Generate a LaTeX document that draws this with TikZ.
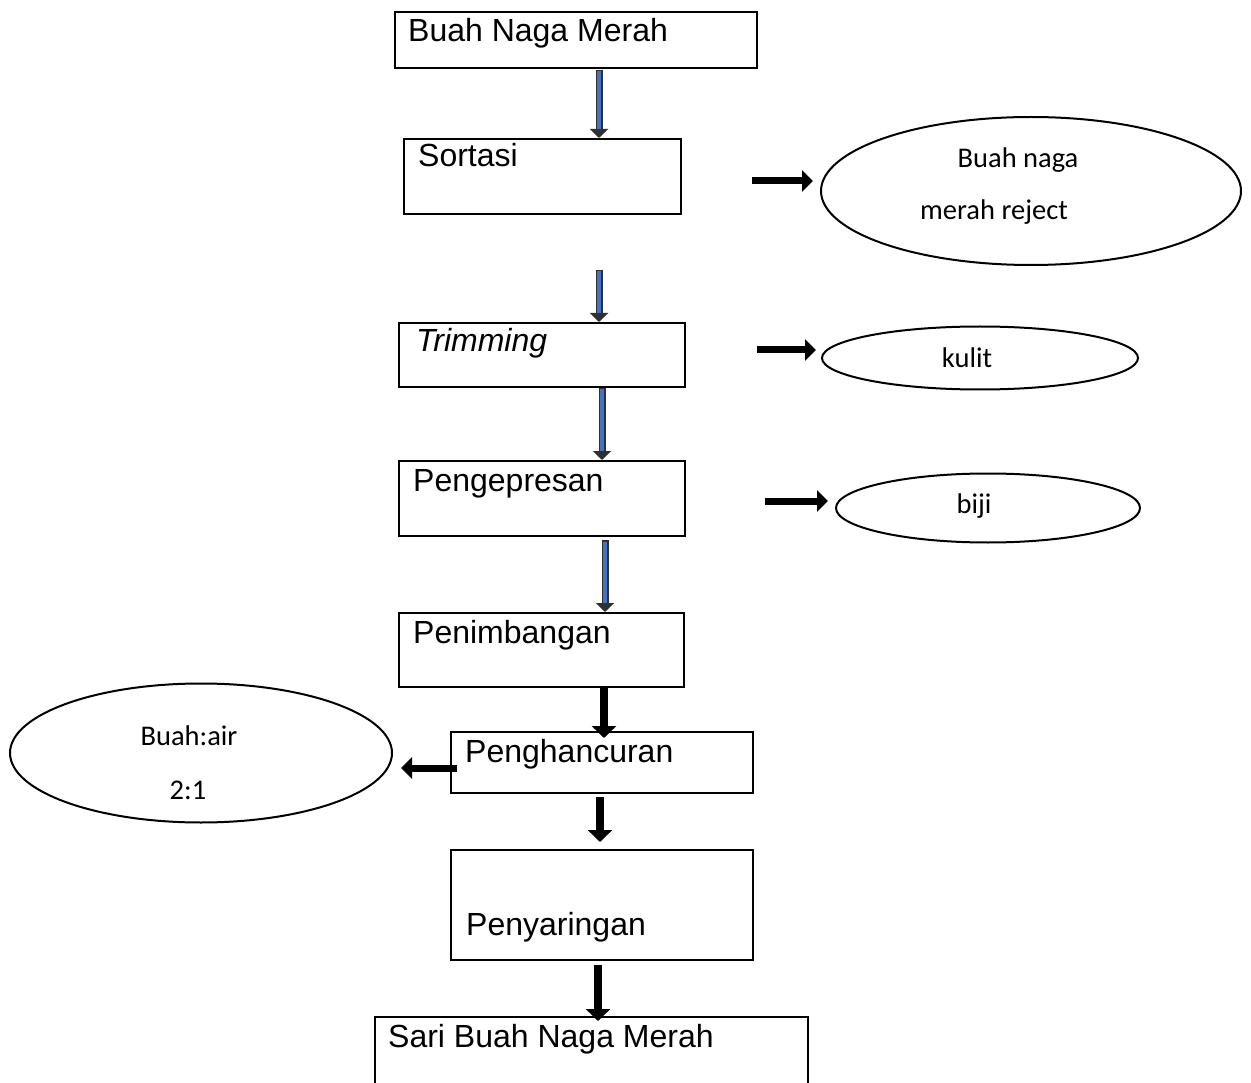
\documentclass[tikz,border=0pt]{standalone}
\usepackage{fontspec}
\setmainfont{Liberation Sans}
\newfontfamily\calfont{Carlito}
\usetikzlibrary{arrows.meta,shapes.geometric,calc}
\definecolor{arrblue}{HTML}{4472C4}
\definecolor{arrline}{HTML}{303030}
\begin{document}
\begin{tikzpicture}[x=1pt,y=-1pt,
  box/.style={draw, line width=2pt, anchor=north west, inner sep=0pt},
  lbl/.style={anchor=base west, inner sep=0pt, font=\fontsize{32}{38}\selectfont},
  ell/.style={draw, line width=2pt, ellipse, inner sep=0pt},
  elbl/.style={anchor=base, inner sep=0pt, font=\calfont\fontsize{28.5}{34}\selectfont},
  bout/.style={line width=7pt, draw=arrline, -{Triangle[length=9pt,width=18pt]}},
  bin/.style={line width=3.5pt, draw=arrblue, shorten <=1.5pt, shorten >=9pt},
  varr/.style={line width=8pt, -{Triangle[length=12pt,width=24pt]}},
  harr/.style={line width=7pt, -{Triangle[length=11pt,width=21pt]}}]
\useasboundingbox (0,0) rectangle (1251,1083);

% process boxes
\node[box, minimum width=362pt, minimum height=56pt] (b1) at (394,11) {};
\node[box, minimum width=277pt, minimum height=75pt] (b2) at (403,138) {};
\node[box, minimum width=286pt, minimum height=64pt] (b3) at (398,322) {};
\node[box, minimum width=286pt, minimum height=75pt] (b4) at (398,460) {};
\node[box, minimum width=285pt, minimum height=74pt] (b5) at (398,612) {};
\node[box, minimum width=302pt, minimum height=61pt] (b6) at (450,731) {};
\node[box, minimum width=302pt, minimum height=110pt] (b7) at (450,849) {};
\node[anchor=north west, inner sep=0pt, minimum width=433pt, minimum height=68pt] (b8) at (375,1017) {};
\draw[line width=2pt] (b8.south west) -- (b8.north west) -- (b8.north east) -- (b8.south east);

\node[lbl] (t1) at (408,42) {Buah Naga Merah};
\node[lbl] (t2) at (418,167) {Sortasi};
\node[lbl] (t3) at (416,352) {\itshape Trimming};
\node[lbl] (t4) at (413,491) {Pengepresan};
\node[lbl] (t5) at (413,643) {Penimbangan};
\node[lbl] (t6) at (465,762) {Penghancuran};
\node[lbl] (t7) at (466,935) {Penyaringan};
\node[lbl] (t8) at (388,1047) {Sari Buah Naga Merah};

% side ellipses
\node[ell, minimum width=420pt, minimum height=148pt] (e1) at (1031,191) {};
\node[ell, minimum width=316pt, minimum height=63pt] (e2) at (980,358) {};
\node[ell, minimum width=304pt, minimum height=69pt] (e3) at (988,508) {};
\node[ell, minimum width=382pt, minimum height=139pt] (e4) at (201,753) {};

\node[elbl] (l1a) at (1018,168) {Buah naga};
\node[elbl] (l1b) at (994,220) {merah reject};
\node[elbl] (l2) at (967,367) {kulit};
\node[elbl] (l3) at (974,513) {biji};
\node[elbl] (l4a) at (189,745) {Buah:air};
\node[elbl] (l4b) at (188,799) {2:1};

% blue arrows
\coordinate (s1) at (599,70);
\coordinate (s2) at (599,270);
\coordinate (s3) at (602,388);
\coordinate (s4) at (605,540);
\draw[bout] (s1) -- (s1 |- b2.north);
\draw[bin]  (s1) -- (s1 |- b2.north);
\draw[bout] (s2) -- (s2 |- b3.north);
\draw[bin]  (s2) -- (s2 |- b3.north);
\draw[bout] (s3) -- (s3 |- b4.north);
\draw[bin]  (s3) -- (s3 |- b4.north);
\draw[bout] (s4) -- (s4 |- b5.north);
\draw[bin]  (s4) -- (s4 |- b5.north);

% black arrows
\coordinate (s5) at (604,686);
\coordinate (s6) at (600,797);
\coordinate (s7) at (598,965);
\draw[varr] (s5) -- ($(s5 |- b6.north)+(0,7)$);
\draw[varr] (s6) -- ($(s6 |- b7.north)+(0,-7)$);
\draw[varr] (s7) -- ($(s7 |- b8.north)+(0,4)$);

\coordinate (h1) at (752,181);
\coordinate (h2) at (757,350);
\coordinate (h3) at (765,501);
\coordinate (h4) at (457,768);
\draw[harr, shorten >=7pt] (h1) -- (h1 -| e1.west);
\draw[harr, shorten >=5pt] (h2) -- (h2 -| e2.west);
\draw[harr, shorten >=7pt] (h3) -- (h3 -| e3.west);
\draw[harr, shorten >=8pt] (h4) -- (h4 -| e4.east);
\end{tikzpicture}
\end{document}
